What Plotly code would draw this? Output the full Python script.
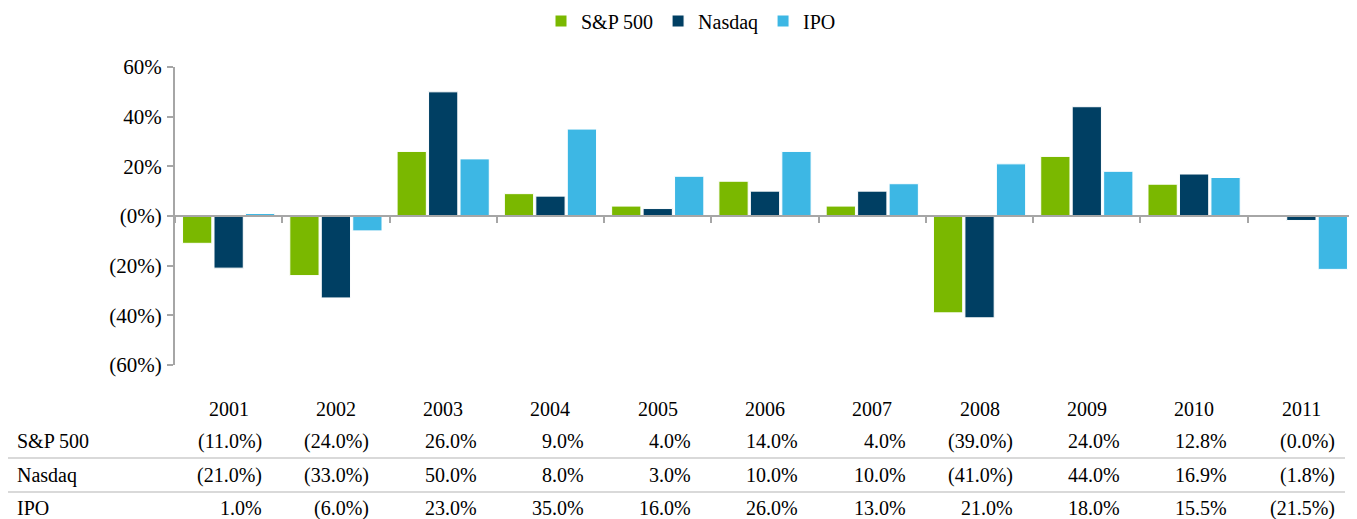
import plotly.graph_objects as go

years = ["2001", "2002", "2003", "2004", "2005", "2006", "2007", "2008", "2009", "2010", "2011"]
sp500 = [-11.0, -24.0, 26.0, 9.0, 4.0, 14.0, 4.0, -39.0, 24.0, 12.8, -0.0]
nasdaq = [-21.0, -33.0, 50.0, 8.0, 3.0, 10.0, 10.0, -41.0, 44.0, 16.9, -1.8]
ipo = [1.0, -6.0, 23.0, 35.0, 16.0, 26.0, 13.0, 21.0, 18.0, 15.5, -21.5]
series_names = ["S&P 500", "Nasdaq", "IPO"]
series_values = [sp500, nasdaq, ipo]
colors = ["#7AB800", "#003F63", "#3DB7E4"]
ytick_vals = [-60, -40, -20, 0, 20, 40, 60]
ytick_text = ["(60%)", "(40%)", "(20%)", "(0%)", "20%", "40%", "60%"]

FONT = "Liberation Serif"

def fmt(v):
    if v < 0 or (v == 0 and str(v).startswith("-")):
        return "(%.1f%%)" % abs(v)
    return "%.1f%%" % v

fig = go.Figure()
for name, vals, col in zip(series_names, series_values, colors):
    fig.add_trace(go.Bar(x=years, y=vals, name=name,
                         marker=dict(color=col, line=dict(color="white", width=1))))

OFF = 8  # page body margin
W, H = 1357, 519
ml = 175 - OFF
mt = 67 - OFF
plot_bottom = 365 - OFF
plot_right = 1355 - OFF
mb = H - plot_bottom
mr = W - plot_right
ph = plot_bottom - mt
pw = plot_right - ml

def py(ypix):
    return (plot_bottom - (ypix - OFF)) / ph

def px(xpix):
    return ((xpix - OFF) - ml) / pw

TF = dict(family=FONT, size=20, color="#000")
annotations = []
for i, y in enumerate(years):
    annotations.append(dict(x=i, y=py(409), xref="x", yref="paper", text=y, showarrow=False,
                            xanchor="center", yanchor="middle", font=TF))
row_y = [441, 475, 508]
for name, vals, ry in zip(series_names, series_values, row_y):
    annotations.append(dict(x=px(15), y=py(ry), xref="paper", yref="paper", text=name, showarrow=False,
                            xanchor="left", yanchor="middle", font=TF))
    for i, v in enumerate(vals):
        annotations.append(dict(x=i + 0.33, y=py(ry), xref="x", yref="paper", text=fmt(v), showarrow=False,
                                xanchor="right", yanchor="middle", font=TF))

shapes = []
for ly in [458, 492]:
    shapes.append(dict(type="line", xref="paper", yref="paper", x0=px(0), x1=px(1345), y0=py(ly), y1=py(ly),
                       line=dict(color="#D9D9D9", width=2)))

fig.update_layout(
    width=W, height=H,
    margin=dict(l=ml, r=mr, t=mt, b=mb),
    paper_bgcolor="white", plot_bgcolor="white",
    barmode="group", bargap=0.12, bargroupgap=0.07,
    font=dict(family=FONT, size=20, color="#000"),
    legend=dict(orientation="h", x=(691 - OFF) / W, xanchor="center", xref="container",
                y=1 - (21 - OFF) / H, yref="container", yanchor="middle",
                font=dict(family=FONT, size=20, color="#000"), itemwidth=30,
                traceorder="normal", tracegroupgap=0),
    xaxis=dict(type="category", showticklabels=False, tickson="boundaries", ticks="outside", ticklen=6,
               tickcolor="#A6A6A6", tickwidth=2, showline=True, linecolor="#A6A6A6", linewidth=2,
               showgrid=False, zeroline=False, anchor="free", position=0.5, fixedrange=True),
    yaxis=dict(range=[-60, 60], tickvals=ytick_vals, ticktext=ytick_text, ticks="outside", ticklen=6,
               tickcolor="#A6A6A6", tickwidth=2, showline=True, linecolor="#A6A6A6", linewidth=2,
               showgrid=False, zeroline=False, tickfont=dict(family=FONT, size=21, color="#000"),
               ticklabelstandoff=1),
    annotations=annotations,
    shapes=shapes,
)

fig.write_html("out.html")
